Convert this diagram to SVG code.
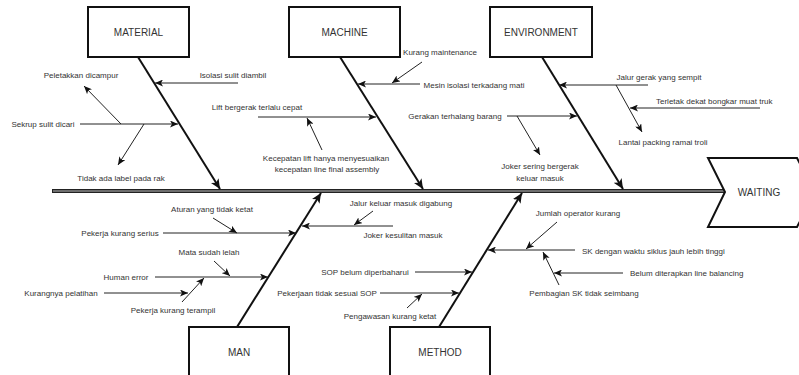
<svg xmlns="http://www.w3.org/2000/svg" width="799" height="375" viewBox="0 0 799 375">
<defs>
<style>
.box{fill:#fff;stroke:#111;stroke-width:2}
.bl{font-family:"Liberation Sans",Arial,sans-serif;font-size:10px;fill:#333;text-anchor:middle}
.lb{font-family:"Liberation Sans",Arial,sans-serif;font-size:8px;fill:#333;text-anchor:middle}
.ls{text-anchor:start}
.bone{stroke:#111;stroke-width:2;fill:none}
.sub{stroke:#222;stroke-width:1;fill:none}
</style>
<marker id="ah" markerUnits="userSpaceOnUse" markerWidth="8" markerHeight="7" refX="8" refY="3.5" orient="auto">
<path d="M0,0 L8,3.5 L0,7 L2,3.5 z" fill="#111"/>
</marker>
<marker id="ahb" markerUnits="userSpaceOnUse" markerWidth="10" markerHeight="9" refX="10" refY="4.5" orient="auto">
<path d="M0,0 L10,4.5 L0,9 L2.5,4.5 z" fill="#111"/>
</marker>
</defs>
<rect width="799" height="375" fill="#fff"/>

<g id="connectors">
<line x1="52" y1="191" x2="725" y2="191" stroke="#222" stroke-width="4"/>
<line x1="53" y1="191" x2="724" y2="191" stroke="#bbb" stroke-width="1"/>
<line class="bone" x1="138" y1="57" x2="220" y2="189" marker-end="url(#ahb)"/>
<line class="bone" x1="340" y1="57" x2="423" y2="189" marker-end="url(#ahb)"/>
<line class="bone" x1="542" y1="57" x2="623" y2="189" marker-end="url(#ahb)"/>
<line class="bone" x1="237" y1="327" x2="321" y2="193" marker-end="url(#ahb)"/>
<line class="bone" x1="439" y1="327" x2="522" y2="193" marker-end="url(#ahb)"/>
<line class="sub" x1="121" y1="124" x2="84" y2="86" marker-end="url(#ah)"/>
<line class="sub" x1="238" y1="83" x2="155" y2="83" marker-end="url(#ah)"/>
<line class="sub" x1="80" y1="124" x2="178" y2="124" marker-end="url(#ah)"/>
<line class="sub" x1="144" y1="124" x2="118" y2="165" marker-end="url(#ah)"/>
<line class="sub" x1="258" y1="117" x2="376" y2="117" marker-end="url(#ah)"/>
<line class="sub" x1="322" y1="150" x2="307" y2="118" marker-end="url(#ah)"/>
<line class="sub" x1="422" y1="62" x2="392" y2="83" marker-end="url(#ah)"/>
<line class="sub" x1="420" y1="84" x2="358" y2="84" marker-end="url(#ah)"/>
<line class="sub" x1="507" y1="116" x2="577" y2="116" marker-end="url(#ah)"/>
<line class="sub" x1="517" y1="116" x2="540" y2="155" marker-end="url(#ah)"/>
<line class="sub" x1="648" y1="85" x2="559" y2="85" marker-end="url(#ah)"/>
<line class="sub" x1="616" y1="85" x2="642" y2="132" marker-end="url(#ah)"/>
<line class="sub" x1="760" y1="108" x2="630" y2="108" marker-end="url(#ah)"/>
<line class="sub" x1="213" y1="218" x2="237" y2="233" marker-end="url(#ah)"/>
<line class="sub" x1="163" y1="233" x2="296" y2="233" marker-end="url(#ah)"/>
<line class="sub" x1="214" y1="261" x2="230" y2="276" marker-end="url(#ah)"/>
<line class="sub" x1="155" y1="277" x2="268" y2="277" marker-end="url(#ah)"/>
<line class="sub" x1="104" y1="293" x2="188" y2="293" marker-end="url(#ah)"/>
<line class="sub" x1="182" y1="302" x2="204" y2="278" marker-end="url(#ah)"/>
<line class="sub" x1="373" y1="211" x2="354" y2="225" marker-end="url(#ah)"/>
<line class="sub" x1="393" y1="226" x2="302" y2="226" marker-end="url(#ah)"/>
<line class="sub" x1="415" y1="272" x2="472" y2="272" marker-end="url(#ah)"/>
<line class="sub" x1="380" y1="293" x2="459" y2="293" marker-end="url(#ah)"/>
<line class="sub" x1="407" y1="308" x2="422" y2="294" marker-end="url(#ah)"/>
<line class="sub" x1="557" y1="222" x2="526" y2="249" marker-end="url(#ah)"/>
<line class="sub" x1="575" y1="250" x2="488" y2="250" marker-end="url(#ah)"/>
<line class="sub" x1="623" y1="273" x2="554" y2="273" marker-end="url(#ah)"/>
<line class="sub" x1="559" y1="285" x2="543" y2="252" marker-end="url(#ah)"/>
</g>

<g id="material"><rect class="box" x="88" y="7" width="101" height="50"/><text class="bl" x="138.5" y="35.5">MATERIAL</text></g>
<g id="machine"><rect class="box" x="289" y="7" width="111" height="50"/><text class="bl" x="344.5" y="35.5">MACHINE</text></g>
<g id="environment"><rect class="box" x="490" y="7" width="102" height="50"/><text class="bl" x="541" y="35.5">ENVIRONMENT</text></g>
<g id="man"><rect class="box" x="189" y="327" width="100" height="60"/><text class="bl" x="239" y="355.5">MAN</text></g>
<g id="method"><rect class="box" x="390" y="327" width="100" height="60"/><text class="bl" x="440" y="355.5">METHOD</text></g>
<g id="waiting"><path class="box" d="M708,158 L797,158 L815,192 L797,227 L708,227 L725,192 Z"/><text class="bl" x="759" y="195.5">WAITING</text></g>

<g id="t1"><text class="lb" x="81" y="78">Peletakkan dicampur</text></g>
<g id="t2"><text class="lb" x="233" y="78">Isolasi sulit diambil</text></g>
<g id="t3"><text class="lb" x="43" y="127">Sekrup sulit dicari</text></g>
<g id="t4"><text class="lb" x="121" y="181">Tidak ada label pada rak</text></g>
<g id="t5"><text class="lb" x="257" y="110">Lift bergerak terlalu cepat</text></g>
<g id="t6"><text class="lb" x="326" y="161">Kecepatan lift hanya menyesuaikan</text><text class="lb" x="327" y="172">kecepatan line final assembly</text></g>
<g id="t7"><text class="lb" x="440" y="55">Kurang maintenance</text></g>
<g id="t8"><text class="lb" x="474" y="88">Mesin isolasi terkadang mati</text></g>
<g id="t9"><text class="lb" x="455" y="119">Gerakan terhalang barang</text></g>
<g id="t10"><text class="lb" x="540" y="169">Joker sering bergerak</text><text class="lb" x="540" y="181">keluar masuk</text></g>
<g id="t11"><text class="lb" x="659" y="80">Jalur gerak yang sempit</text></g>
<g id="t12"><text class="lb ls" x="656" y="104">Terletak dekat bongkar muat truk</text></g>
<g id="t13"><text class="lb" x="663" y="145">Lantai packing ramai troli</text></g>
<g id="t14"><text class="lb" x="212" y="212">Aturan yang tidak ketat</text></g>
<g id="t15"><text class="lb" x="120" y="236">Pekerja kurang serius</text></g>
<g id="t16"><text class="lb" x="209" y="255">Mata sudah lelah</text></g>
<g id="t17"><text class="lb" x="126" y="280">Human error</text></g>
<g id="t18"><text class="lb" x="61" y="296">Kurangnya pelatihan</text></g>
<g id="t19"><text class="lb" x="173" y="313">Pekerja kurang terampil</text></g>
<g id="t20"><text class="lb" x="401" y="206">Jalur keluar masuk digabung</text></g>
<g id="t21"><text class="lb" x="403" y="238">Joker kesulitan masuk</text></g>
<g id="t22"><text class="lb" x="365" y="275">SOP belum diperbaharui</text></g>
<g id="t23"><text class="lb" x="327" y="296">Pekerjaan tidak sesuai SOP</text></g>
<g id="t24"><text class="lb" x="390" y="319">Pengawasan kurang ketat</text></g>
<g id="t25"><text class="lb" x="578" y="216">Jumlah operator kurang</text></g>
<g id="t26"><text class="lb ls" x="582" y="254">SK dengan waktu siklus jauh lebih tinggi</text></g>
<g id="t27"><text class="lb ls" x="630" y="276">Belum diterapkan line balancing</text></g>
<g id="t28"><text class="lb" x="584" y="296">Pembagian SK tidak seimbang</text></g>
</svg>
